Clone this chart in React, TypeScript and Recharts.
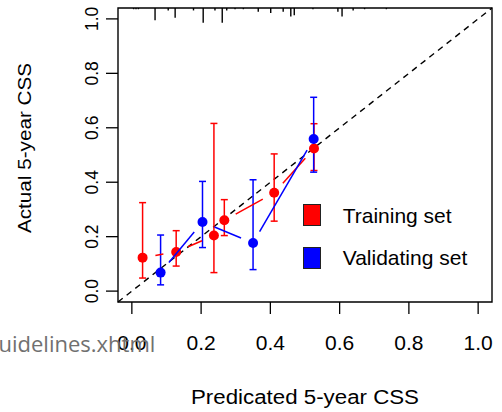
import React from "react";
import {
  ScatterChart,
  Scatter,
  XAxis,
  YAxis,
  ErrorBar,
  ReferenceLine,
  ReferenceArea,
  Legend,
} from "recharts";

const AXIS_MIN = -0.04;
const AXIS_MAX = 1.04;
const axisTicks = [0, 0.2, 0.4, 0.6, 0.8, 1.0];

// training set: predicted, observed, 95% CI
const trainPred = [0.031, 0.128, 0.237, 0.267, 0.411, 0.526];
const trainObs = [0.123, 0.144, 0.204, 0.26, 0.361, 0.524];
const trainLow = [0.048, 0.092, 0.068, 0.204, 0.257, 0.443];
const trainHigh = [0.325, 0.222, 0.616, 0.336, 0.504, 0.615];

// validating set
const validPred = [0.083, 0.204, 0.35, 0.525];
const validObs = [0.068, 0.254, 0.177, 0.559];
const validLow = [0.023, 0.16, 0.079, 0.437];
const validHigh = [0.206, 0.403, 0.409, 0.712];

// rug of predicted values along the top edge (relative counts)
const rugPred = [
  0.005, 0.012, 0.019, 0.067, 0.105, 0.125, 0.178, 0.206, 0.24, 0.261, 0.274, 0.298,
  0.322, 0.365, 0.401, 0.437, 0.459, 0.469, 0.523, 0.595, 0.607, 0.639, 0.672, 0.735,
];
const rugCount = [1, 1, 1, 10, 2, 8, 2, 12, 2, 12, 2, 1, 1, 3, 4, 3, 7, 6, 1, 3, 7, 2, 1, 1];
const RUG_UNIT = 0.0045; // rug length per count, in y units

const buildSet = (pred: number[], obs: number[], low: number[], high: number[]) =>
  pred.map((p, i) => ({ x: p, y: obs[i], err: [obs[i] - low[i], high[i] - obs[i]] }));

const trainData = buildSet(trainPred, trainObs, trainLow, trainHigh);
const validData = buildSet(validPred, validObs, validLow, validHigh);

const RED = "#ff0000";
const BLUE = "#0000ff";
const FONT = "'Liberation Sans', Arial, sans-serif";
const GAP = 13;

// R type="b" style: segments between points with a gap around each point
const gappedLine = (color: string) => (props: any) => {
  const pts = props.points || [];
  const segs: React.ReactElement[] = [];
  for (let i = 0; i < pts.length - 1; i++) {
    const a = pts[i];
    const b = pts[i + 1];
    const dx = b.x - a.x;
    const dy = b.y - a.y;
    const len = Math.hypot(dx, dy);
    if (len <= 2 * GAP) continue;
    const ux = dx / len;
    const uy = dy / len;
    segs.push(
      <line
        key={i}
        x1={a.x + ux * GAP}
        y1={a.y + uy * GAP}
        x2={b.x - ux * GAP}
        y2={b.y - uy * GAP}
        stroke={color}
        strokeWidth={1.5}
      />
    );
  }
  return <g>{segs}</g>;
};

const dot = (color: string) => (props: any) => (
  <circle cx={props.cx} cy={props.cy} r={5} fill={color} />
);

const YTick = (props: any) => {
  const { x, y, payload } = props;
  return (
    <text
      transform={`translate(${x},${y}) rotate(-90)`}
      textAnchor="middle"
      fontSize={17.5}
      fontFamily={FONT}
      fill="#000"
    >
      {Number(payload.value).toFixed(1)}
    </text>
  );
};

const LegendBox = (props: any) => {
  const items = (props.payload || []).filter((p: any) => p.type !== "none");
  return (
    <svg width={190} height={80} style={{ display: "block" }}>
      {items.map((p: any, i: number) => (
        <g key={p.value}>
          <rect x={3.5} y={6.5 + i * 43} width={17} height={21} fill={p.color} stroke="#222" strokeWidth={1} />
          <text x={42.7} y={25 + i * 42} fontSize={21} fontFamily={FONT} fill="#000">
            {p.value}
          </text>
        </g>
      ))}
    </svg>
  );
};

const App = () => {
  return (
    <div style={{ position: "absolute", left: 0, top: 0, width: 502, height: 412, background: "#fff" }}>
      <ScatterChart width={502} height={412} margin={{ top: 8, right: 10, bottom: 10, left: 58 }}>
        <XAxis
          type="number"
          dataKey="x"
          domain={[AXIS_MIN, AXIS_MAX]}
          allowDataOverflow
          ticks={axisTicks}
          tickFormatter={(v: number) => v.toFixed(1)}
          axisLine={false}
          tickLine={{ stroke: "#000", strokeWidth: 1.3 }}
          tickSize={12}
          tickMargin={21}
          height={100}
          tick={{ fontSize: 21, fill: "#000", fontFamily: FONT }}
          label={{
            content: (p: any) => {
              const vb = p.viewBox || { x: 118, width: 374 };
              return (
                <text
                  x={vb.x + vb.width / 2}
                  y={403.5}
                  textAnchor="middle"
                  fontSize={20}
                  fontFamily={FONT}
                  fill="#000"
                  textLength={228}
                  lengthAdjust="spacingAndGlyphs"
                >
                  Predicated 5-year CSS
                </text>
              );
            },
          }}
        />
        <YAxis
          type="number"
          dataKey="y"
          domain={[AXIS_MIN, AXIS_MAX]}
          allowDataOverflow
          ticks={axisTicks}
          axisLine={false}
          tickLine={{ stroke: "#000", strokeWidth: 1.3 }}
          tickSize={12}
          tickMargin={8}
          width={60}
          tick={<YTick />}
          label={{
            content: () => (
              <text
                transform="translate(31,148) rotate(-90)"
                textAnchor="middle"
                fontSize={18}
                fontFamily={FONT}
                fill="#000"
                textLength={170}
                lengthAdjust="spacingAndGlyphs"
              >
                Actual 5-year CSS
              </text>
            ),
          }}
        />
        <ReferenceArea
          x1={AXIS_MIN}
          x2={AXIS_MAX}
          y1={AXIS_MIN}
          y2={AXIS_MAX}
          fill="none"
          stroke="#000"
          strokeWidth={1.4}
        />
        {rugPred.map((x, i) => (
          <ReferenceLine
            key={`rug-${i}`}
            segment={[
              { x, y: AXIS_MAX },
              { x, y: AXIS_MAX - rugCount[i] * RUG_UNIT },
            ]}
            stroke="#000"
            strokeWidth={1.4}
          />
        ))}
        <ReferenceLine
          segment={[
            { x: AXIS_MIN, y: AXIS_MIN },
            { x: AXIS_MAX, y: AXIS_MAX },
          ]}
          stroke="#000"
          strokeWidth={1.4}
          strokeDasharray="6 5"
        />
        <Scatter
          name="Training set"
          data={trainData}
          fill={RED}
          shape={dot(RED)}
          line={gappedLine(RED)}
          isAnimationActive={false}
        >
          <ErrorBar dataKey="err" direction="y" width={3.5} stroke={RED} strokeWidth={1.5} isAnimationActive={false} />
        </Scatter>
        <Scatter
          name="Validating set"
          data={validData}
          fill={BLUE}
          shape={dot(BLUE)}
          line={gappedLine(BLUE)}
          isAnimationActive={false}
        >
          <ErrorBar dataKey="err" direction="y" width={3.5} stroke={BLUE} strokeWidth={1.5} isAnimationActive={false} />
        </Scatter>
        <Legend
          layout="horizontal"
          align="center"
          verticalAlign="middle"
          content={<LegendBox />}
          wrapperStyle={{ left: 300, top: 198, width: 190, height: 80 }}
        />
      </ScatterChart>
      <svg
        width={502}
        height={412}
        style={{ position: "absolute", left: 0, top: 0, pointerEvents: "none" }}
      >
        <text x={-1.5} y={352} fontSize={22} fontFamily="'Open Sans', sans-serif" fill="#707070">
          uidelines.xhtml
        </text>
      </svg>
    </div>
  );
};

export default App;
